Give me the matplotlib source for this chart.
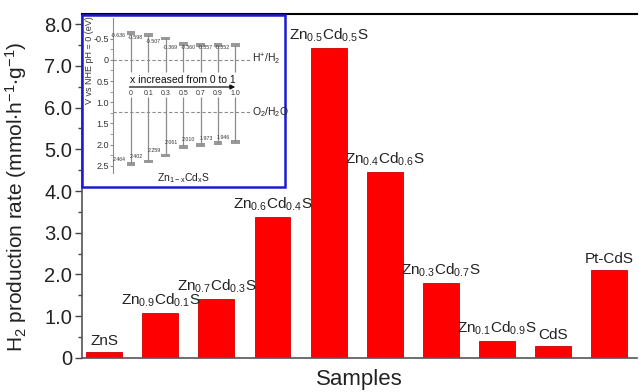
"""plot.py: H2 production rate of Zn(1-x)Cd(x)S samples, with a band-edge inset."""
import matplotlib

matplotlib.use("Agg")
import matplotlib.pyplot as plt
from matplotlib.patches import Rectangle

plt.rcParams["font.family"] = ["Liberation Sans", "DejaVu Sans"]
plt.rcParams["mathtext.default"] = "regular"

# main bars
samples = ["ZnS", "Zn$_{0.9}$Cd$_{0.1}$S", "Zn$_{0.7}$Cd$_{0.3}$S", "Zn$_{0.6}$Cd$_{0.4}$S",
           "Zn$_{0.5}$Cd$_{0.5}$S", "Zn$_{0.4}$Cd$_{0.6}$S", "Zn$_{0.3}$Cd$_{0.7}$S",
           "Zn$_{0.1}$Cd$_{0.9}$S", "CdS", "Pt-CdS"]
rates = [0.14, 1.08, 1.41, 3.37, 7.42, 4.45, 1.79, 0.41, 0.29, 2.11]
yticks = [0, 1, 2, 3, 4, 5, 6, 7, 8]
ytick_labels = ["0", "1.0", "2.0", "3.0", "4.0", "5.0", "6.0", "7.0", "8.0"]

# inset: band edges vs NHE
x_frac = ["0", "0.1", "0.3", "0.5", "0.7", "0.9", "1.0"]
cb = [-0.636, -0.598, -0.507, -0.369, -0.360, -0.357, -0.352]
vb = [2.464, 2.402, 2.259, 2.061, 2.010, 1.973, 1.946]
inset_yticks = [-0.5, 0, 0.5, 1.0, 1.5, 2.0, 2.5]
inset_ytick_labels = ["-0.5", "0", "0.5", "1.0", "1.5", "2.0", "2.5"]
h2_level, o2_level = 0.0, 1.23

RED = "#ff0000"
GRAY = "#8c8c8c"
TXT = "#222222"

fig = plt.figure(figsize=(6.39, 3.92), dpi=100)
ax = fig.add_axes([0.128, 0.087, 0.869, 0.877])

pos = list(range(len(samples)))
ax.bar(pos, rates, width=0.64, color=RED, edgecolor="#d00000", linewidth=0.6)
for p, r, s in zip(pos, rates, samples):
    ax.text(p, r + 0.1, s, ha="center", va="bottom", fontsize=11, color=TXT)

ax.set_xlim(-0.4, 9.5)
ax.set_ylim(0, 8.24)
ax.set_xticks([])
ax.set_yticks(yticks)
ax.set_yticklabels(ytick_labels, fontsize=14.5, color=TXT)
ax.set_yticks([v + 0.5 for v in yticks[:-1]], minor=True)
ax.tick_params(axis="y", which="major", length=5, width=1, color="#444444", pad=2)
ax.tick_params(axis="y", which="minor", length=3, width=1, color="#444444")
ax.spines["right"].set_visible(False)
for side in ("left", "bottom"):
    ax.spines[side].set_color("#555555")
    ax.spines[side].set_linewidth(1.2)
ax.spines["top"].set_linewidth(1.5)
ax.set_xlabel("Samples", fontsize=16, labelpad=8, color=TXT)
ax.set_ylabel("H$_2$ production rate (mmol$\\cdot$h$^{-1}$$\\cdot$g$^{-1}$)", fontsize=15,
              labelpad=3, color=TXT)
ax.yaxis.set_label_coords(-0.095, 0.47)

# blue frame around inset
fig.patches.append(Rectangle((82 / 639, 1 - 187 / 392), 203 / 639, 172 / 392,
                             transform=fig.transFigure, fill=True, facecolor="white",
                             edgecolor="#1a1ad0", linewidth=1.8, zorder=3))

ins = fig.add_axes([0.177, 0.559, 0.269, 0.395], zorder=4)
ins.patch.set_alpha(0)
ix = list(range(len(x_frac)))
ins.set_xlim(-1.03, 8.85)
ins.set_ylim(2.67, -0.99)
for side in ("top", "right", "bottom"):
    ins.spines[side].set_visible(False)
ins.spines["left"].set_color(GRAY)
ins.set_xticks([])
ins.set_yticks(inset_yticks)
ins.set_yticklabels(inset_ytick_labels, fontsize=6.5, color="#333333")
ins.set_yticks([v + 0.25 for v in inset_yticks[:-1]], minor=True)
ins.tick_params(axis="y", which="both", length=2, color=GRAY, pad=1)
fig.text(89 / 639, 1 - 60 / 392, "V vs NHE pH = 0 (eV)", rotation=90, ha="center", va="center",
         fontsize=6.5, color="#333333", zorder=5)

ins.vlines(ix, cb, 0.28, color=GRAY, lw=0.9)
ins.vlines(ix, 0.87, vb, color=GRAY, lw=0.9)
ins.bar(ix, 0.09, bottom=[c - 0.045 for c in cb], width=0.5, color="#999999")
ins.bar(ix, 0.09, bottom=[v - 0.045 for v in vb], width=0.5, color="#999999")
for i, c, v in zip(ix, cb, vb):
    ins.text(i - 0.3, c + 0.07, f"{c:.3f}", ha="right", va="center", fontsize=3.8, color="#333333")
    ins.text(i - 0.3, v - 0.12, f"{v:.3f}", ha="right", va="center", fontsize=3.8, color="#333333")
    ins.text(i, 0.8, x_frac[i], ha="center", va="center", fontsize=5, color="#333333")

ins.hlines([h2_level, o2_level], -1.03, 6.85, colors=GRAY, linestyles=(0, (3, 2)), lw=0.8)
ins.text(6.95, h2_level, "H$^{+}$/H$_2$", ha="left", va="center", fontsize=7.5, color=TXT)
ins.text(6.95, o2_level, "O$_2$/H$_2$O", ha="left", va="center", fontsize=7.5, color=TXT)

ins.annotate("", xy=(6.15, 0.64), xytext=(-0.25, 0.64),
             arrowprops=dict(arrowstyle="-|>", color="#111111", lw=0.9, mutation_scale=7))
ins.text(3.0, 0.47, "x increased from 0 to 1", ha="center", va="center", fontsize=7.5, color="#111111")
ins.text(3.0, 2.8, "Zn$_{1-x}$Cd$_x$S", ha="center", va="center", fontsize=7.5, color=TXT, clip_on=False)

fig.savefig("out.png", dpi=100)
